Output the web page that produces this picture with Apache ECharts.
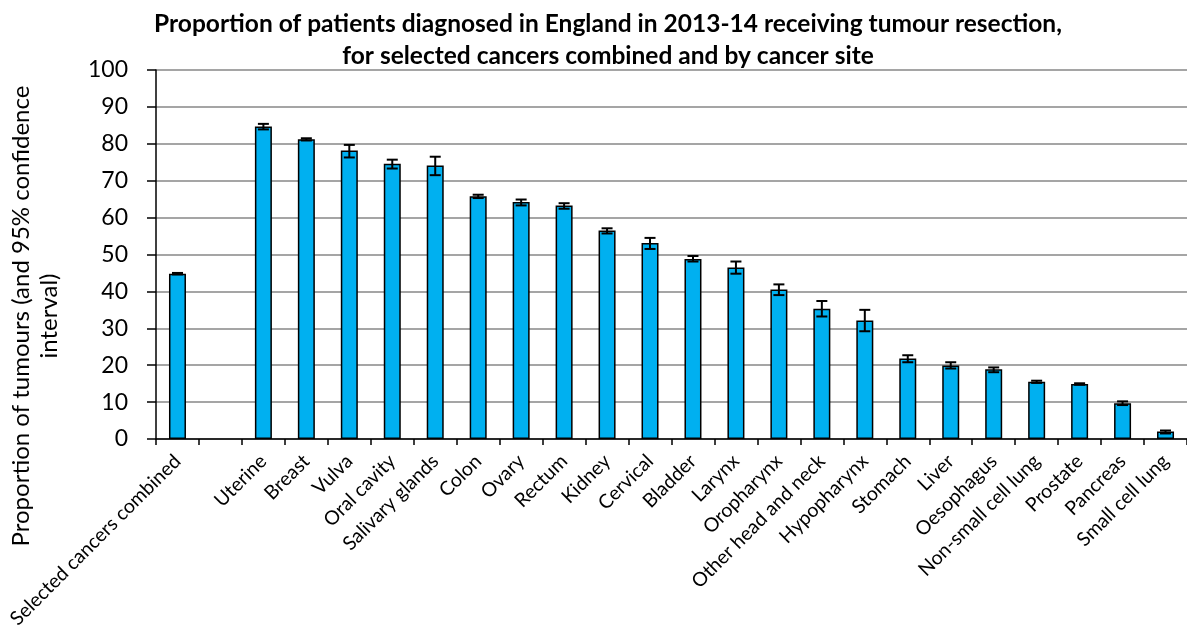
<!DOCTYPE html>
<html>
<head>
<meta charset="utf-8">
<script src="https://cdn.jsdelivr.net/npm/echarts@6/dist/echarts.min.js"></script>
<style>
  html, body { margin: 0; padding: 0; background: #fff; }
  #chart { width: 1187px; height: 633px; }
</style>
</head>
<body>
<div id="chart"></div>
<script>
// Cancer sites (a blank slot separates the combined figure from the sites)
const categories = [
  'Selected cancers combined', '', 'Uterine', 'Breast', 'Vulva', 'Oral cavity',
  'Salivary glands', 'Colon', 'Ovary', 'Rectum', 'Kidney', 'Cervical', 'Bladder',
  'Larynx', 'Oropharynx', 'Other head and neck', 'Hypopharynx', 'Stomach', 'Liver',
  'Oesophagus', 'Non-small cell lung', 'Prostate', 'Pancreas', 'Small cell lung'
];

// Proportion receiving tumour resection (%)
const proportion = [
  44.8, null, 84.7, 81.2, 78.2, 74.6, 74.1, 65.8, 64.2, 63.3, 56.5, 53.1, 48.8,
  46.5, 40.5, 35.3, 32.1, 21.8, 19.9, 18.9, 15.5, 14.9, 9.7, 2.0
];

// 95% confidence interval bounds (%)
const ciLower = [
  44.6, null, 83.9, 80.9, 76.3, 73.3, 71.5, 65.3, 63.3, 62.4, 55.7, 51.5, 48.1,
  44.8, 39.0, 33.2, 29.2, 20.8, 19.1, 18.1, 15.2, 14.7, 9.2, 1.5
];
const ciUpper = [
  45.0, null, 85.4, 81.5, 79.7, 75.7, 76.5, 66.2, 64.9, 63.9, 57.1, 54.5, 49.6,
  48.1, 41.9, 37.4, 35.0, 22.7, 20.8, 19.4, 15.8, 15.1, 10.2, 2.3
];

// Y axis ticks
const yTicks = { min: 0, max: 100, interval: 10 };

const FONT = 'Lato';

const errorData = [];
categories.forEach((c, i) => {
  if (ciLower[i] != null) errorData.push([i, ciLower[i], ciUpper[i]]);
});

const chart = echarts.init(document.getElementById('chart'), null, { renderer: 'canvas' });

chart.setOption({
  backgroundColor: '#ffffff',
  animation: false,
  title: {
    text: 'Proportion of patients diagnosed in England in 2013-14 receiving tumour resection,\nfor selected cancers combined and by cancer site',
    left: 603,
    textAlign: 'center',
    top: 3,
    textStyle: {
      fontFamily: FONT,
      fontWeight: 'bold',
      fontSize: 24.5,
      lineHeight: 32,
      color: '#000'
    }
  },
  graphic: [{
    type: 'text',
    x: 35,
    y: 316,
    rotation: Math.PI / 2,
    style: {
      text: 'Proportion of tumours (and 95% confidence\ninterval)',
      fontFamily: FONT,
      fontSize: 24,
      lineHeight: 28,
      fill: '#000',
      align: 'center',
      verticalAlign: 'middle'
    }
  }],
  grid: {
    left: 156,
    top: 70,
    width: 1039,
    bottom: 194,
    containLabel: false
  },
  xAxis: {
    type: 'category',
    data: categories,
    boundaryGap: true,
    axisLine: { lineStyle: { color: '#000', width: 1.5 } },
    axisTick: { show: true, length: 6, interval: 0, lineStyle: { color: '#000', width: 1.5 } },
    axisLabel: {
      interval: 0,
      rotate: 45,
      margin: 19,
      fontFamily: FONT,
      fontSize: 19.5,
      color: '#000'
    },
    splitLine: { show: false }
  },
  yAxis: {
    type: 'value',
    min: yTicks.min,
    max: yTicks.max,
    interval: yTicks.interval,
    axisLine: { show: true, lineStyle: { color: '#000', width: 1.5 } },
    axisTick: { show: true, length: 9, lineStyle: { color: '#000', width: 1.5 } },
    axisLabel: {
      fontFamily: FONT,
      fontSize: 23,
      color: '#000',
      margin: 28
    },
    splitLine: { show: true, lineStyle: { color: '#878787', width: 1.5 } }
  },
  series: [
    {
      type: 'bar',
      data: proportion,
      barWidth: 17,
      itemStyle: {
        color: '#00B0F0',
        borderColor: '#000',
        borderWidth: 1.5
      },
      z: 2
    },
    {
      type: 'custom',
      data: errorData,
      z: 3,
      renderItem: function (params, api) {
        const x = api.value(0);
        const lo = api.coord([x, api.value(1)]);
        const hi = api.coord([x, api.value(2)]);
        const half = 5.5;
        const style = { stroke: '#000', lineWidth: 2 };
        return {
          type: 'group',
          children: [
            { type: 'line', shape: { x1: lo[0], y1: lo[1], x2: hi[0], y2: hi[1] }, style: style },
            { type: 'line', shape: { x1: lo[0] - half, y1: lo[1], x2: lo[0] + half, y2: lo[1] }, style: style },
            { type: 'line', shape: { x1: hi[0] - half, y1: hi[1], x2: hi[0] + half, y2: hi[1] }, style: style }
          ]
        };
      }
    }
  ]
});
</script>
</body>
</html>
